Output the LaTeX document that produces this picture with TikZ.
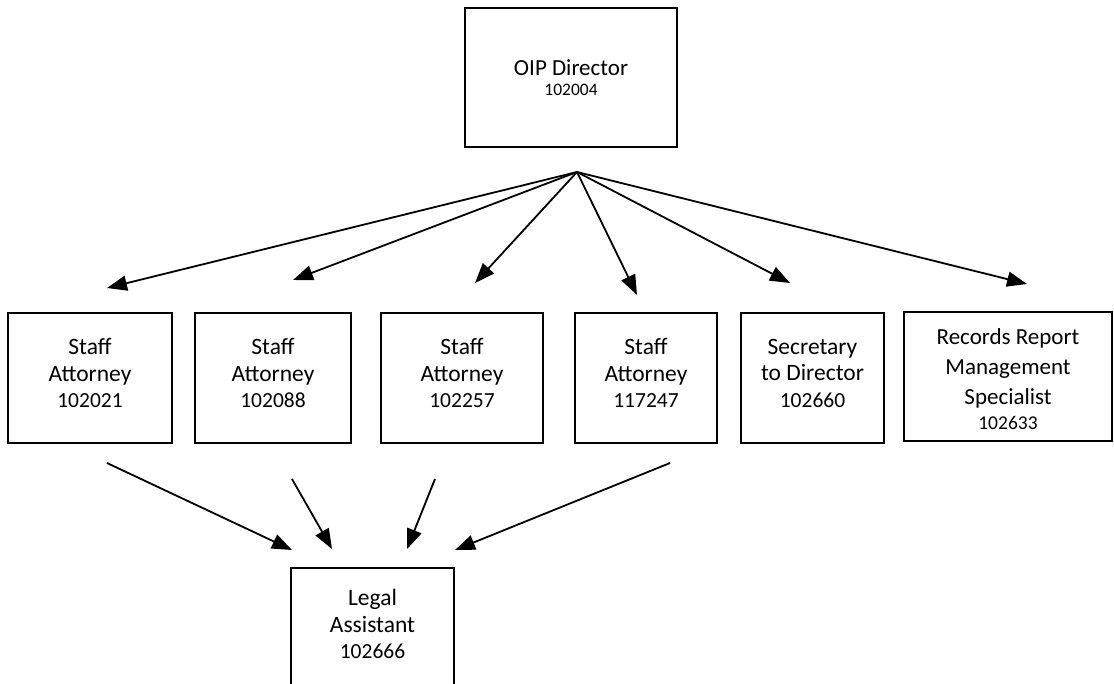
\documentclass[tikz,border=0pt]{standalone}
\usepackage{fontspec}
\setmainfont{Carlito}
\usetikzlibrary{arrows.meta}
\newcommand{\numA}{\fontsize{21.5}{26.5}\selectfont}
\begin{document}
\begin{tikzpicture}[x=1pt,y=-1pt,
  orgbox/.style={draw=black, line width=1.6pt, inner sep=0pt, align=center,
    font=\fontsize{23.5}{26.5}\selectfont},
  link/.style={line width=1.8pt, -{Triangle[length=20pt,width=15pt]}}]
\useasboundingbox (0,0) rectangle (1114,683);
\clip (0,0) rectangle (1114,683);
\fill[white] (0,0) rectangle (1114,683);

% top box
\node[orgbox, minimum width=212, minimum height=139, text depth=0pt,
  font=\fontsize{23}{20}\selectfont] (dir) at (571,77.5)
  {OIP Director\\{\fontsize{17.5}{20}\selectfont 102004}};

% row boxes
\node[orgbox, minimum width=164, minimum height=130, text depth=10pt] (sa1) at (90,378) {Staff\\Attorney\\{\numA 102021}};
\node[orgbox, minimum width=156, minimum height=130, text depth=10pt] (sa2) at (273,378) {Staff\\Attorney\\{\numA 102088}};
\node[orgbox, minimum width=162, minimum height=130, text depth=10pt] (sa3) at (462,378) {Staff\\Attorney\\{\numA 102257}};
\node[orgbox, minimum width=142, minimum height=130, text depth=10pt] (sa4) at (646,378) {Staff\\Attorney\\{\numA 117247}};
\node[orgbox, minimum width=143, minimum height=130, text depth=10pt] (sec) at (812.5,378) {Secretary\\to Director\\{\numA 102660}};
\node[orgbox, minimum width=208, minimum height=129, text depth=0pt,
  font=\fontsize{23}{30}\selectfont] (rec) at (1008,376.5)
  {\rule{0pt}{21pt}Records Report\\Management\\Specialist\\[-5pt]{\fontsize{19.5}{27}\selectfont 102633}};

% legal assistant (cut off at the bottom)
\node[draw=black, line width=1.6pt, minimum width=163, minimum height=140, anchor=north] (legal) at (372.5,567) {};
\node[align=center, inner sep=0pt, font=\fontsize{23.5}{26.5}\selectfont] (legaltxt) at ([yshift=-57]legal.north) {Legal\\Assistant\\{\numA 102666}};

% connectors
\coordinate (hub) at (577,172);
\coordinate (t1) at (107,288);
\coordinate (t2) at (293,280);
\coordinate (t3) at (475,283);
\coordinate (t4) at (637,295);
\coordinate (t5) at (790,283);
\coordinate (t6) at (1027,284);
\draw[link] (hub) -- (t1);
\draw[link] (hub) -- (t2);
\draw[link] (hub) -- (t3);
\draw[link] (hub) -- (t4);
\draw[link] (hub) -- (t5);
\draw[link] (hub) -- (t6);

\coordinate (s1) at (107,463);
\coordinate (s2) at (292,479);
\coordinate (s3) at (435,479);
\coordinate (s4) at (670,463);
\coordinate (l1) at (292,550);
\coordinate (l2) at (332,549);
\coordinate (l3) at (407,549);
\coordinate (l4) at (455,550);
\draw[link] (s1) -- (l1);
\draw[link] (s2) -- (l2);
\draw[link] (s3) -- (l3);
\draw[link] (s4) -- (l4);
\end{tikzpicture}
\end{document}
